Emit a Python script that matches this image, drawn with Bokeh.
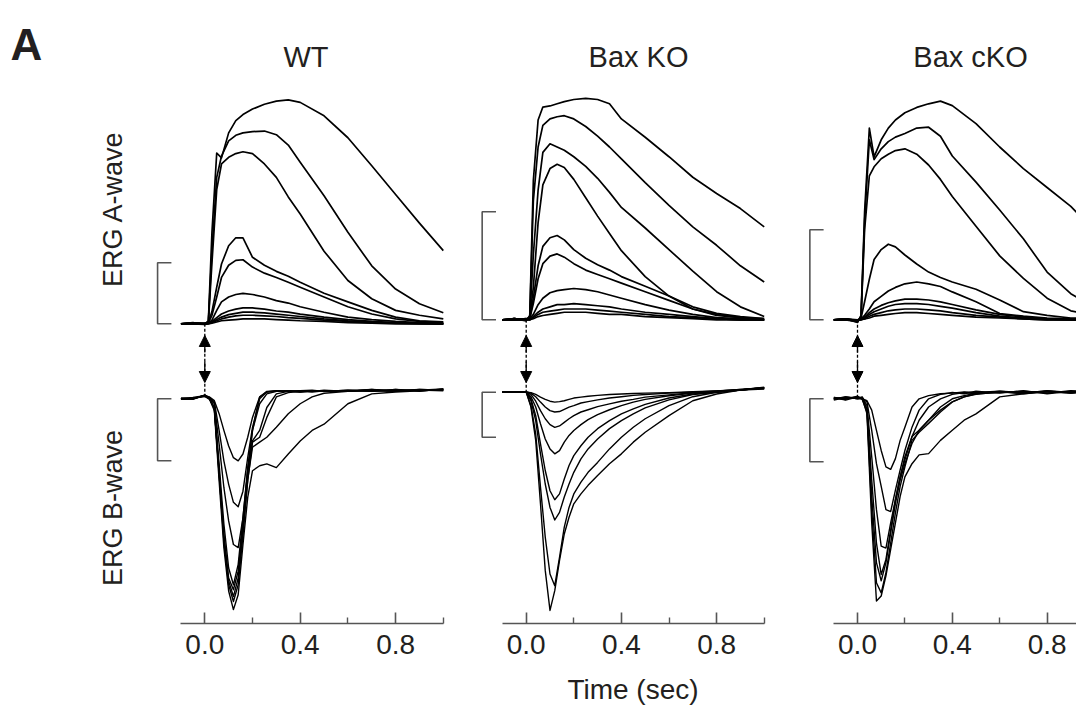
import math
from bokeh.plotting import figure
from bokeh.layouts import row
from bokeh.models import (Range1d, LinearAxis, FixedTicker, PrintfTickFormatter,
                          Label, Arrow, NormalHead)
from bokeh.embed import file_html
from bokeh.resources import INLINE

# ---------------- data (amplitudes in units where the scale bar = 100) ----------------
GROUPS = ["WT", "Bax KO", "Bax cKO"]
SCALE_BAR = 100
TICKS = [0.0, 0.4, 0.8]
MINOR_TICKS = [0.2, 0.6, 1.0]

# time grids (s)
TA = [-0.1, -0.05, 0.0, 0.015, 0.03, 0.05, 0.07, 0.1, 0.13, 0.16, 0.2, 0.25, 0.3,
      0.35, 0.4, 0.5, 0.6, 0.7, 0.8, 0.9, 1.0]
TB = [-0.1, -0.05, 0.0, 0.02, 0.04, 0.06, 0.08, 0.1, 0.12, 0.14, 0.16, 0.18, 0.2,
      0.23, 0.26, 0.3, 0.35, 0.4, 0.45, 0.5, 0.6, 0.7, 0.8, 0.9, 1.0]

WT_A = [
    [0, 2, -1, 5, 150, 280, 272, 313, 333, 343, 352, 360, 365, 367, 363, 341, 305, 259, 212, 165, 120],
    [0, 1, 0, 4, 120, 240, 275, 300, 309, 313, 315, 316, 310, 293, 265, 210, 150, 95, 57, 33, 18],
    [0, 1, 0, 3, 100, 220, 262, 273, 279, 282, 279, 262, 240, 208, 180, 119, 71, 41, 22, 14, 8],
    [0, 0, 1, 2, 20, 60, 98, 128, 141, 141, 109, 96, 86, 78, 68, 50, 36, 22, 11, 5, 3],
    [0, 1, 0, 2, 14, 44, 76, 96, 104, 105, 93, 83, 76, 68, 60, 44, 28, 16, 8, 4, 2],
    [0, 0, 1, 1, 6, 22, 36, 44, 48, 50, 48, 44, 38, 34, 28, 19, 11, 7, 4, 2, 1],
    [0, 1, 0, 1, 4, 10, 16, 21, 24, 26, 26, 24, 21, 19, 16, 11, 7, 4, 2, 1, 0],
    [0, 0, 0, 1, 3, 7, 11, 15, 17, 19, 19, 18, 16, 14, 12, 8, 5, 3, 1, 1, 0],
    [0, 1, 0, 0, 2, 5, 8, 11, 13, 14, 14, 13, 12, 10, 9, 6, 4, 2, 1, 0, 0],
    [0, 0, -1, 0, 1, 3, 5, 6, 7, 8, 8, 8, 7, 6, 5, 4, 2, 1, 0, 0, 0],
]
WT_B = [
    [0, 2, 5, 3, -3, -24, -51, -76, -95, -100, -89, -62, -30, 3, 12, 13, 12, 13, 12, 14, 12, 15, 13, 14, 16],
    [1, 0, 6, 2, -5, -51, -100, -138, -167, -174, -149, -95, -46, 0, 11, 13, 12, 13, 14, 12, 14, 12, 15, 13, 15],
    [0, 1, 4, 1, -8, -73, -143, -197, -235, -240, -192, -116, -51, 3, 11, 12, 13, 11, 13, 12, 13, 14, 12, 15, 14],
    [-1, 1, 5, 0, -14, -105, -202, -273, -300, -267, -192, -111, -51, -8, 8, 12, 13, 12, 13, 12, 14, 12, 15, 12, 16],
    [0, -1, 6, 1, -16, -116, -219, -289, -308, -278, -203, -116, -68, -51, -14, 8, 12, 11, 13, 12, 13, 15, 12, 14, 15],
    [1, 0, 5, 0, -16, -122, -224, -294, -319, -289, -213, -132, -70, -62, -30, 3, 10, 12, 11, 13, 12, 14, 13, 15, 14],
    [0, 1, 4, -1, -19, -132, -240, -310, -340, -316, -235, -159, -116, -108, -105, -111, -89, -68, -51, -41, -8, 8, 11, 13, 15],
    [-1, 0, 6, 0, -14, -119, -230, -300, -327, -300, -220, -130, -78, -70, -62, -46, -24, -8, 3, 9, 12, 13, 12, 14, 13],
]
KO_A = [
    [0, 1, -1, 4, 129, 185, 197, 198, 200, 202, 204, 205, 204, 200, 186, 169, 151, 132, 117, 103, 86],
    [0, 0, 0, 3, 110, 160, 180, 186, 188, 189, 186, 179, 170, 160, 149, 127, 106, 86, 69, 50, 35],
    [0, 1, 0, 2, 60, 120, 155, 163, 160, 157, 151, 142, 131, 118, 104, 85, 65, 45, 26, 12, 3],
    [0, 0, 1, 2, 30, 90, 125, 140, 144, 141, 130, 113, 96, 80, 64, 40, 22, 10, 4, 2, 0],
    [0, 1, 0, 1, 20, 50, 68, 76, 78, 74, 65, 57, 51, 46, 40, 31, 22, 12, 6, 3, 1],
    [0, 0, 0, 1, 15, 38, 52, 59, 61, 58, 52, 46, 42, 38, 34, 26, 18, 10, 5, 2, 1],
    [0, 1, 0, 1, 5, 14, 20, 25, 27, 28, 29, 28, 26, 23, 20, 14, 9, 5, 2, 1, 0],
    [0, 0, 0, 0, 3, 7, 10, 12, 14, 14, 15, 14, 13, 12, 10, 7, 5, 3, 1, 0, 0],
    [0, 0, 1, 0, 2, 5, 7, 8, 9, 10, 10, 10, 9, 8, 7, 5, 3, 2, 1, 0, 0],
    [0, 1, 0, 0, 1, 3, 4, 5, 6, 7, 7, 7, 6, 5, 5, 3, 2, 1, 0, 0, 0],
]
KO_B = [
    [0, 1, 0, -1, -5, -11, -16, -20, -22, -21, -19, -16, -13, -11, -9, -7, -5, -4, -3, -2, -1, 1, 3, 5, 7],
    [0, 0, 1, -2, -10, -22, -33, -41, -44, -43, -38, -33, -30, -24, -21, -17, -13, -10, -7, -5, -2, 0, 3, 6, 8],
    [1, 0, 0, -5, -20, -41, -59, -72, -78, -75, -67, -59, -52, -44, -39, -32, -26, -20, -16, -11, -6, -1, 2, 6, 10],
    [0, 1, 1, -10, -33, -70, -104, -126, -137, -130, -111, -96, -85, -72, -61, -50, -39, -30, -22, -16, -8, -2, 1, 5, 9],
    [0, 0, 1, -15, -52, -115, -174, -219, -239, -226, -193, -163, -141, -119, -100, -81, -63, -48, -37, -27, -13, -4, 1, 5, 10],
    [1, 0, 0, -19, -63, -137, -204, -256, -284, -267, -233, -204, -178, -148, -126, -104, -81, -63, -48, -35, -17, -5, 0, 5, 10],
    [0, 1, 0, -30, -93, -211, -322, -404, -430, -367, -300, -256, -226, -200, -178, -156, -126, -100, -78, -59, -30, -10, 0, 5, 11],
    [0, 0, 1, -33, -107, -248, -396, -485, -441, -374, -315, -278, -248, -226, -207, -185, -159, -137, -111, -89, -52, -19, -4, 5, 10],
]
CKO_A = [
    [0, 1, -3, 5, 120, 213, 181, 200, 213, 222, 230, 236, 240, 243, 238, 218, 192, 168, 147, 126, 99],
    [0, 0, -2, 4, 110, 200, 178, 190, 198, 203, 207, 213, 214, 204, 182, 153, 122, 90, 53, 29, 14],
    [0, 1, -2, 3, 100, 160, 170, 179, 184, 188, 190, 184, 172, 156, 137, 104, 71, 46, 24, 10, 5],
    [0, 0, -1, 2, 20, 45, 67, 78, 84, 81, 72, 62, 53, 47, 42, 34, 22, 9, 5, 2, 1],
    [0, 1, -1, 1, 5, 12, 20, 26, 32, 36, 40, 42, 40, 37, 31, 20, 7, 4, 2, 1, 0],
    [0, 0, 0, 1, 3, 8, 12, 16, 19, 21, 23, 23, 22, 20, 17, 11, 6, 3, 1, 0, 0],
    [0, 1, -1, 0, 2, 6, 9, 12, 15, 17, 18, 18, 17, 15, 13, 8, 4, 2, 1, 0, 0],
    [0, 0, 0, 0, 1, 4, 6, 8, 10, 11, 12, 12, 11, 10, 8, 5, 3, 1, 0, 0, 0],
    [0, 1, 0, 0, 1, 2, 4, 5, 6, 7, 8, 8, 7, 6, 5, 3, 2, 1, 0, 0, 0],
]
CKO_B = [
    [0, 3, 0, 0, -3, -18, -50, -82, -108, -112, -95, -66, -45, -13, 0, 5, 8, 9, 11, 10, 12, 10, 12, 10, 11],
    [2, -2, 3, 1, -5, -50, -103, -139, -176, -179, -145, -113, -82, -45, -18, 0, 7, 10, 8, 12, 9, 13, 8, 12, 10],
    [-2, 2, 1, 3, -11, -92, -176, -234, -237, -197, -160, -124, -97, -60, -34, -13, 0, 7, 10, 8, 12, 9, 13, 10, 12],
    [1, -1, 4, 0, -16, -129, -229, -279, -255, -208, -160, -124, -92, -60, -50, -34, -13, 0, 5, 9, 11, 8, 12, 9, 13],
    [-1, 3, 0, 2, -18, -155, -260, -289, -260, -213, -166, -129, -103, -71, -50, -34, -18, -5, 3, 8, 10, 12, 9, 13, 10],
    [2, 0, 3, -1, -21, -176, -292, -308, -276, -229, -181, -139, -108, -66, -53, -39, -21, -5, 3, 7, 11, 9, 12, 10, 12],
    [0, 2, 2, 1, -24, -197, -321, -313, -281, -239, -197, -155, -124, -103, -89, -87, -66, -50, -34, -24, 3, 8, 11, 9, 12],
]

# ---------------- layout (canvas pixels) ----------------
H = 711
TOP, BOTTOM = 0, 623          # frame top / bottom (canvas px)
FONT = "Liberation Sans"
INK = "#231f20"
GREY = "#555555"

PANELS = [
    dict(title=GROUPS[0], A=WT_A, B=WT_B, fx=(0, 470), x0=204.3, pps=238.5,
         yA0=323.3, hA=61, yB0=398.3, hB=62, bar_x=-0.198, title_x=305.5),
    dict(title=GROUPS[1], A=KO_A, B=KO_B, fx=(470, 795), x0=525.7, pps=238.0,
         yA0=319.3, hA=108, yB0=391.7, hB=45, bar_x=-0.185, title_x=638),
    dict(title=GROUPS[2], A=CKO_A, B=CKO_B, fx=(795, 1076), x0=857.0, pps=237.0,
         yA0=319.3, hA=90, yB0=398.3, hB=63, bar_x=-0.201, title_x=970),
]


def make_panel(cfg, first=False, middle=False):
    fx0, fx1 = cfg["fx"]
    x0, pps = cfg["x0"], cfg["pps"]
    yA0, hA, yB0, hB = cfg["yA0"], cfg["hA"], cfg["yB0"], cfg["hB"]
    p = figure(width=fx1 - fx0, height=H,
               x_range=Range1d((fx0 - x0) / pps, (fx1 - x0) / pps),
               y_range=Range1d((yA0 - BOTTOM) / hA * SCALE_BAR, (yA0 - TOP) / hA * SCALE_BAR),
               x_axis_type=None, y_axis_type=None,
               toolbar_location=None, output_backend="svg",
               min_border_left=0, min_border_right=0, min_border_top=0,
               min_border_bottom=H - (BOTTOM - TOP))
    p.outline_line_color = None
    p.background_fill_color = "white"
    p.border_fill_color = "white"
    p.extra_y_ranges = {
        "b": Range1d((yB0 - BOTTOM) / hB * SCALE_BAR, (yB0 - TOP) / hB * SCALE_BAR),
        "px": Range1d(BOTTOM, TOP),
    }
    p.extra_x_ranges = {"px": Range1d(fx0, fx1)}

    # traces
    p.multi_line(xs=[TA] * len(cfg["A"]), ys=cfg["A"], line_color="black",
                 line_width=1.7, line_join="round")
    p.multi_line(xs=[TB] * len(cfg["B"]), ys=cfg["B"], line_color="black",
                 line_width=1.4, line_join="round", y_range_name="b")

    # scale bars  "["
    bx, tk = cfg["bar_x"], 0.058
    p.line(x=[bx + tk, bx, bx, bx + tk], y=[0, 0, SCALE_BAR, SCALE_BAR],
           line_color=GREY, line_width=1.6)
    p.line(x=[bx + tk, bx, bx, bx + tk], y=[0, 0, -SCALE_BAR, -SCALE_BAR],
           line_color=GREY, line_width=1.6, y_range_name="b")

    # stimulus arrows at t = 0
    p.segment(x0=[0], y0=[yA0], x1=[0], y1=[yB0], line_color="black",
              line_width=1.3, line_dash="3 2", y_range_name="px")
    p.add_layout(Arrow(x_start=0, y_start=352, x_end=0, y_end=335, y_range_name="px",
                       line_width=1.3, line_color="black",
                       end=NormalHead(size=11, fill_color="black", line_color="black")))
    p.add_layout(Arrow(x_start=0, y_start=361, x_end=0, y_end=382, y_range_name="px",
                       line_width=1.3, line_color="black",
                       end=NormalHead(size=11, fill_color="black", line_color="black")))

    # x axis
    ax = LinearAxis(bounds=(-0.1, 1.0),
                    ticker=FixedTicker(ticks=TICKS, minor_ticks=MINOR_TICKS),
                    formatter=PrintfTickFormatter(format="%.1f"),
                    axis_line_color=GREY, axis_line_width=1.6,
                    major_tick_line_color=GREY, major_tick_line_width=1.6,
                    minor_tick_line_color=GREY, minor_tick_line_width=1.4,
                    major_tick_in=11, major_tick_out=0, minor_tick_in=6, minor_tick_out=0,
                    major_label_standoff=11,
                    major_label_text_font=FONT, major_label_text_font_size="28px",
                    major_label_text_color=INK)
    if middle:
        ax.axis_label = "Time (sec)"
        ax.axis_label_standoff = 17
        ax.axis_label_text_font = FONT
        ax.axis_label_text_font_size = "28px"
        ax.axis_label_text_font_style = "normal"
        ax.axis_label_text_color = INK
    p.add_layout(ax, "below")

    # group title
    p.add_layout(Label(x=cfg["title_x"], y=56, text=cfg["title"], x_range_name="px",
                       y_range_name="px", text_align="center", text_baseline="alphabetic",
                       text_font=FONT, text_font_size="29px", text_color=INK))

    if first:
        p.add_layout(Label(x=10, y=44, text="A", x_range_name="px", y_range_name="px",
                           text_align="left", text_baseline="alphabetic", text_font=FONT,
                           text_font_size="44px", text_font_style="bold", text_color=INK))
        for txt, yc in (("ERG A-wave", 208.5), ("ERG B-wave", 507.5)):
            p.add_layout(Label(x=112, y=yc, text=txt, angle=math.pi / 2,
                               x_range_name="px", y_range_name="px",
                               text_align="center", text_baseline="alphabetic",
                               text_font=FONT, text_font_size="27px", text_color=INK))
    return p


figs = [make_panel(PANELS[0], first=True),
        make_panel(PANELS[1], middle=True),
        make_panel(PANELS[2])]
layout = row(*figs, spacing=0)

open("out.html", "w").write(file_html(layout, INLINE))
